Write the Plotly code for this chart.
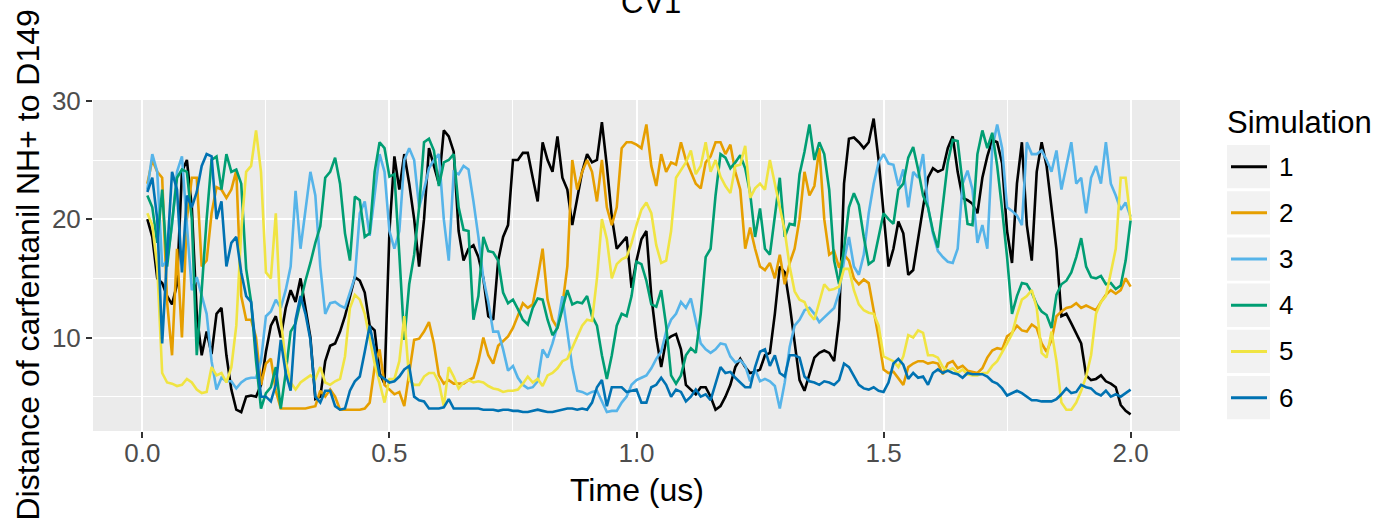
import plotly.graph_objects as go

# ---------------- data ----------------
TIME = [round(0.01 * i, 2) for i in range(1, 201)]  # 0.01 .. 2.00 us

SIM1 = [20.0, 18.5, 15.0, 14.6, 13.5, 12.8, 14.5, 24.0, 25.0, 21.0,
        12.0, 8.5, 10.5, 8.6, 12.0, 12.5, 8.5, 5.6, 3.9, 3.7,
        5.0, 5.1, 5.0, 6.0, 8.8, 11.0, 11.8, 10.0, 12.5, 14.0,
        13.0, 15.0, 12.5, 10.0, 4.8, 5.0, 8.0, 9.3, 9.5, 10.5,
        11.8, 13.4, 15.1, 14.8, 13.8, 11.0, 10.6, 7.0, 6.1, 19.0,
        25.3, 22.5, 25.5, 23.0, 20.0, 16.0, 20.0, 26.0, 24.5, 23.0,
        27.5, 27.0, 25.7, 19.0, 16.5, 17.5, 17.8, 16.8, 15.0, 11.8,
        11.5, 16.5, 18.5, 19.5, 25.0, 25.0, 25.6, 25.6, 23.5, 21.5,
        26.5, 25.0, 24.0, 27.0, 23.5, 22.5, 19.5, 21.9, 24.0, 25.5,
        24.8, 25.0, 28.2, 24.5, 20.2, 17.5, 18.0, 18.5, 14.2, 16.5,
        18.3, 19.0, 13.5, 10.0, 7.5, 9.8, 10.1, 10.3, 9.0, 6.0,
        5.6, 5.2, 5.8, 5.8, 5.0, 3.9, 4.2, 5.0, 6.0, 7.5,
        8.2, 7.5, 7.0, 7.1, 7.3, 8.5, 8.7, 12.0, 16.0, 15.5,
        12.8, 9.5, 6.4, 5.5, 7.0, 8.3, 8.7, 8.9, 8.7, 8.0,
        11.5, 23.0, 26.8, 26.9, 26.5, 26.0, 26.5, 28.5, 25.0, 20.2,
        16.0, 17.5, 19.8, 18.8, 15.3, 15.7, 18.5, 21.0, 23.5, 24.3,
        24.0, 24.2, 26.0, 27.0, 24.0, 21.8, 21.6, 21.3, 20.5, 23.5,
        25.3, 26.7, 26.5, 24.7, 19.0, 16.3, 23.0, 26.5, 19.5, 16.5,
        24.0, 26.5, 24.5, 21.0, 17.4, 11.8, 12.0, 11.2, 10.4, 9.5,
        6.8, 6.4, 6.5, 6.8, 6.3, 6.1, 5.8, 4.3, 3.8, 3.5]

SIM2 = [23.0, 25.0, 24.0, 23.5, 13.0, 8.5, 17.5, 10.0, 20.0, 23.5,
        23.5, 16.0, 16.5, 20.5, 22.7, 22.5, 21.8, 22.5, 24.1, 13.5,
        11.5, 11.5, 10.0, 6.0, 7.8, 8.2, 5.5, 4.0, 4.0, 4.0,
        4.0, 4.0, 4.0, 4.1, 4.2, 5.5, 5.0, 5.6, 5.0, 3.9,
        3.9, 3.9, 3.9, 3.9, 4.0, 4.5, 7.5, 9.0, 6.0, 5.6,
        5.2, 5.4, 4.2, 7.0, 9.8, 9.9, 10.5, 11.3, 9.5, 6.8,
        6.1, 6.4, 6.1, 6.1, 6.1, 6.4, 6.6, 8.0, 10.0, 8.5,
        7.8, 9.3, 9.7, 10.1, 10.8, 11.8, 12.9, 12.5, 12.8, 15.0,
        17.5, 13.2, 11.5, 10.8, 12.7, 16.0, 25.0, 22.5, 24.0, 25.0,
        24.0, 21.5, 25.0, 21.0, 19.5, 21.0, 26.0, 26.5, 26.5, 26.3,
        26.0, 28.0, 24.5, 22.8, 25.5, 24.0, 24.8, 24.6, 26.5, 25.0,
        24.0, 23.0, 22.6, 24.8, 25.3, 26.5, 26.5, 25.5, 26.3, 24.0,
        22.5, 17.5, 19.3, 17.5, 16.0, 15.7, 16.3, 15.0, 17.0, 14.5,
        16.3, 17.5, 20.0, 24.0, 22.0, 22.8, 26.0, 20.0, 17.0, 17.3,
        15.9, 17.0, 16.5, 15.0, 14.5, 14.9, 14.6, 12.3, 10.0, 7.3,
        7.0, 7.1, 6.5, 6.0, 7.5, 7.8, 8.0, 8.0, 7.8, 7.9,
        7.8, 6.9, 7.8, 8.0, 7.4, 7.6, 7.2, 7.1, 7.0, 7.4,
        8.3, 8.9, 9.1, 9.0, 10.1, 10.4, 11.0, 10.6, 10.5, 11.1,
        10.8, 9.5, 8.8, 9.8, 11.8, 12.2, 12.5, 12.6, 12.9, 12.5,
        12.7, 12.5, 12.3, 13.0, 13.6, 14.0, 13.7, 14.0, 15.0, 14.3]

SIM3 = [22.5, 25.5, 24.0, 16.0, 16.5, 19.5, 24.0, 25.3, 19.5, 14.0,
        15.1, 13.5, 12.0, 8.0, 5.6, 6.6, 6.3, 6.3, 5.7, 6.2,
        6.5, 6.6, 6.6, 8.0, 11.8, 12.2, 13.2, 12.5, 14.0, 16.0,
        22.4, 17.5, 21.0, 24.0, 22.0, 16.0, 12.0, 12.9, 13.0, 12.7,
        12.5, 13.8, 15.1, 20.5, 21.5, 18.6, 22.0, 25.5, 24.0, 19.0,
        17.5, 19.0, 25.0, 26.0, 25.0, 21.0, 22.5, 24.3, 25.0, 25.5,
        20.0, 16.5, 24.0, 23.8, 24.5, 24.2, 21.5, 18.5, 15.0, 13.0,
        10.5, 10.5, 9.0, 7.2, 7.6, 6.6, 6.0, 5.7, 5.8, 6.3,
        9.0, 8.3, 9.5, 11.0, 13.5, 10.5, 7.5, 5.5, 5.4, 5.2,
        5.4, 5.5, 4.6, 3.7, 3.8, 3.8, 4.5, 5.0, 6.0, 6.4,
        6.6, 6.8, 7.4, 8.2, 8.8, 10.5, 11.5, 12.0, 13.0, 12.5,
        13.3, 11.5, 9.5, 9.0, 8.7, 9.0, 9.5, 9.4, 8.4, 7.9,
        8.1, 7.6, 6.3, 7.3, 6.3, 6.5, 6.3, 5.9, 4.0, 6.2,
        9.2, 11.0, 11.5, 12.3, 12.5, 12.0, 11.3, 11.7, 12.1, 12.5,
        13.8, 16.5, 18.5, 16.0, 15.3, 17.0, 20.5, 23.0, 24.8, 25.5,
        24.7, 24.6, 22.8, 24.2, 21.0, 24.0, 23.5, 25.5, 21.0, 18.8,
        17.3, 16.8, 16.4, 16.3, 17.5, 23.0, 24.1, 22.5, 18.0, 19.5,
        17.5, 26.0, 28.0, 26.0, 21.0, 20.7, 20.3, 19.5, 26.5, 25.5,
        25.5, 25.8, 25.0, 24.0, 25.8, 22.5, 24.5, 26.5, 23.0, 23.5,
        20.5, 23.5, 24.5, 23.0, 26.5, 23.0, 22.0, 20.8, 21.4, 20.2]

SIM4 = [22.0, 21.0, 18.0, 22.5, 16.0, 19.5, 23.5, 24.2, 24.0, 20.0,
        8.5, 14.0, 20.0, 25.0, 25.3, 22.5, 25.5, 24.0, 24.2, 23.0,
        15.8, 13.0, 8.0, 4.0, 5.3, 5.8, 7.5, 4.0, 7.0, 10.5,
        11.2, 13.0, 14.8, 16.3, 18.0, 19.4, 23.5, 24.0, 25.2, 23.0,
        18.8, 16.5, 21.9, 21.6, 18.5, 18.8, 24.0, 26.5, 26.0, 23.6,
        23.8, 17.0, 9.8, 14.5, 17.0, 21.0, 26.5, 26.8, 25.8, 22.8,
        24.8, 25.0, 25.5, 21.0, 19.1, 19.0, 11.5, 13.5, 18.5, 17.3,
        17.2, 16.5, 13.8, 12.9, 13.2, 12.4, 11.5, 11.1, 12.5, 13.3,
        13.2, 11.5, 10.2, 10.8, 12.5, 14.0, 12.8, 13.0, 12.9, 13.5,
        11.8, 11.0, 8.5, 6.5, 8.5, 11.0, 12.0, 11.8, 13.5, 16.4,
        16.2, 14.8, 12.8, 12.6, 14.0, 11.0, 6.8, 6.1, 6.8, 8.5,
        9.1, 8.7, 12.0, 16.8, 17.5, 22.0, 25.5, 25.2, 24.3, 24.8,
        25.4, 24.3, 22.2, 18.5, 20.9, 17.5, 17.0, 20.5, 23.5, 18.5,
        19.6, 19.5, 23.8, 25.7, 28.0, 25.0, 26.5, 25.5, 22.5, 16.5,
        14.5, 17.5, 21.0, 22.2, 21.2, 18.5, 16.2, 16.5, 18.5, 20.5,
        20.0, 19.6, 22.5, 23.0, 25.2, 26.1, 24.2, 22.0, 21.0, 19.0,
        17.6, 21.0, 24.8, 26.7, 26.6, 23.0, 19.6, 19.5, 25.5, 27.5,
        26.0, 27.3, 24.5, 20.8, 16.8, 12.0, 13.5, 14.6, 14.5, 13.8,
        12.8, 12.2, 11.9, 10.8, 13.6, 14.5, 14.8, 15.5, 16.8, 18.4,
        16.0, 15.1, 15.0, 15.2, 14.5, 14.6, 14.1, 14.4, 16.5, 19.9]

SIM5 = [20.5, 19.5, 16.0, 7.0, 6.2, 6.1, 5.9, 6.0, 6.5, 6.2,
        5.6, 5.3, 5.4, 7.5, 6.8, 7.0, 6.2, 7.5, 11.0, 19.0,
        24.0, 24.5, 27.5, 24.0, 15.5, 15.0, 20.5, 11.5, 8.0, 6.2,
        5.6, 6.2, 6.5, 6.8, 6.5, 7.5, 6.2, 6.0, 6.3, 6.5,
        8.4, 12.5, 13.6, 13.2, 12.0, 10.0, 7.8, 6.2, 4.5, 6.5,
        6.5, 8.0, 11.8, 6.4, 6.0, 6.0, 6.7, 7.0, 7.0, 6.2,
        4.2, 7.5, 6.7, 5.7, 6.2, 6.4, 6.2, 6.3, 6.2, 5.9,
        5.7, 5.6, 5.4, 5.5, 5.5, 5.6, 6.1, 6.7, 6.2, 6.5,
        5.9, 6.8, 7.0, 7.4, 8.0, 8.2, 9.1, 10.1, 11.0, 11.5,
        11.4, 15.0, 20.0, 18.3, 15.0, 16.2, 16.6, 16.8, 18.0, 19.5,
        20.8, 21.4, 20.5, 17.8, 16.3, 16.5, 19.0, 23.5, 24.2, 24.8,
        25.8, 23.8, 24.5, 26.5, 24.0, 25.0, 23.6, 22.8, 22.2, 24.5,
        24.6, 26.2, 21.8, 22.6, 23.0, 22.5, 25.0, 23.0, 21.0, 19.0,
        16.0, 13.9, 13.2, 13.0, 12.0, 11.5, 13.0, 14.5, 14.0, 14.1,
        14.3, 15.8, 15.8, 14.0, 12.8, 12.3, 12.1, 12.0, 11.0, 8.4,
        8.2, 8.0, 7.5, 8.4, 10.2, 10.0, 10.6, 10.4, 8.5, 8.5,
        8.3, 7.5, 7.2, 7.4, 7.0, 7.3, 6.9, 6.8, 6.8, 7.0,
        7.0, 7.6, 8.0, 8.7, 9.5, 10.3, 11.9, 13.2, 13.5, 14.0,
        12.5, 8.7, 8.3, 10.5, 8.0, 4.5, 3.9, 3.9, 4.5, 5.5,
        6.7, 8.5, 12.0, 13.0, 13.5, 15.5, 17.5, 23.5, 23.5, 19.9]

SIM6 = [22.3, 23.5, 20.0, 9.5, 17.0, 24.0, 22.5, 15.5, 22.0, 21.0,
        22.3, 24.5, 25.5, 25.3, 20.0, 21.5, 16.0, 18.0, 18.5, 15.5,
        13.5, 13.0, 9.0, 5.0, 5.0, 4.6, 6.0, 9.8, 7.0, 5.5,
        11.5, 13.5, 12.0, 9.8, 5.0, 4.5, 5.5, 5.5, 4.2, 3.9,
        4.0, 5.5, 6.3, 6.7, 8.8, 11.0, 9.0, 6.8, 6.5, 6.2,
        6.3, 6.7, 7.3, 7.6, 5.0, 4.7, 4.6, 4.0, 4.0, 4.0,
        4.1, 4.8, 4.0, 4.0, 4.0, 4.0, 4.0, 4.0, 3.9, 3.9,
        3.9, 3.8, 3.9, 3.9, 3.8, 3.8, 3.7, 3.7, 3.8, 3.9,
        3.8, 3.7, 3.7, 3.8, 3.9, 4.0, 4.0, 3.9, 4.0, 3.9,
        4.5, 5.8, 6.4, 4.2, 5.8, 5.8, 5.8, 5.4, 5.5, 5.6,
        4.5, 4.5, 5.8, 6.0, 6.6, 6.0, 5.0, 5.6, 5.4, 4.6,
        5.0, 5.6, 5.0, 5.2, 4.7, 6.0, 7.5, 7.0, 7.1, 6.6,
        6.2, 5.8, 5.8, 7.5, 8.8, 9.0, 7.6, 8.5, 7.0, 6.7,
        8.5, 8.5, 8.3, 6.7, 6.3, 6.2, 6.0, 6.3, 6.2, 6.0,
        6.4, 7.8, 7.5, 6.8, 6.0, 5.7, 5.6, 5.8, 5.5, 5.4,
        6.2, 7.8, 8.2, 7.7, 6.5, 7.0, 6.6, 6.7, 6.0, 7.0,
        7.3, 7.0, 7.2, 7.0, 6.9, 6.6, 7.0, 6.9, 6.9, 6.9,
        6.7, 6.3, 6.1, 5.7, 5.1, 5.3, 5.5, 5.3, 5.0, 4.7,
        4.7, 4.6, 4.6, 4.6, 4.8, 5.2, 5.7, 5.3, 5.4, 6.0,
        5.8, 5.7, 5.3, 5.1, 5.5, 5.0, 5.2, 5.0, 5.3, 5.6]

SIM_NAMES = ["1", "2", "3", "4", "5", "6"]
SIM_COLORS = ["#000000", "#E69F00", "#56B4E9", "#009E73", "#F0E442", "#0072B2"]
X_TICKS = [0.0, 0.5, 1.0, 1.5, 2.0]
X_TICK_TEXT = ["0.0", "0.5", "1.0", "1.5", "2.0"]
X_MINOR = [0.25, 0.75, 1.25, 1.75]
Y_TICKS = [10, 20, 30]
Y_MINOR = [5, 15, 25]

TITLE = "CV1"
X_TITLE = "Time (us)"
Y_TITLE = "Distance of carfentanil NH+ to D149"
LEGEND_TITLE = "Simulation"

# ---------------- layout geometry (pixels) ----------------
W, H = 1377, 521
PL, PR, PT, PB = 93, 1180, 100, 431   # panel edges
FONT = "Liberation Sans, Arial, Helvetica, sans-serif"


def fx(px):
    return (px - PL) / (PR - PL)


def fy(py):
    return (PB - py) / (PB - PT)


fig = go.Figure()
for name, col, vals in zip(SIM_NAMES, SIM_COLORS, [SIM1, SIM2, SIM3, SIM4, SIM5, SIM6]):
    fig.add_trace(go.Scatter(x=TIME, y=vals, mode="lines", name=name,
                             line=dict(color=col, width=2.6), showlegend=False))

shapes = []
annotations = []

# manual legend (ggplot style keys)
annotations.append(dict(text=LEGEND_TITLE, x=fx(1225), y=fy(122), xref="paper", yref="paper",
                        xanchor="left", yanchor="middle", showarrow=False,
                        font=dict(family=FONT, size=31, color="#000000")))
for i, (name, col) in enumerate(zip(SIM_NAMES, SIM_COLORS)):
    top = 145 + 46.2 * i
    bot = top + 43.3
    cy = (top + bot) / 2
    shapes.append(dict(type="rect", xref="paper", yref="paper",
                       x0=fx(1227), x1=fx(1270), y0=fy(bot), y1=fy(top),
                       fillcolor="#F2F2F2", line=dict(width=0), layer="above"))
    shapes.append(dict(type="line", xref="paper", yref="paper",
                       x0=fx(1231), x1=fx(1267), y0=fy(cy), y1=fy(cy),
                       line=dict(color=col, width=3), layer="above"))
    annotations.append(dict(text=name, x=fx(1277), y=fy(cy), xref="paper", yref="paper",
                            xanchor="left", yanchor="middle", showarrow=False,
                            font=dict(family=FONT, size=26, color="#000000")))

# titles (the reference's title is partly cut by the top edge)
annotations.append(dict(text=TITLE, x=fx(651), y=fy(2), xref="paper", yref="paper",
                        xanchor="center", yanchor="middle", showarrow=False,
                        font=dict(family=FONT, size=31, color="#000000")))
annotations.append(dict(text=X_TITLE, x=fx(637), y=fy(490), xref="paper", yref="paper",
                        xanchor="center", yanchor="middle", showarrow=False,
                        font=dict(family=FONT, size=32, color="#000000")))
annotations.append(dict(text=Y_TITLE, x=fx(27), y=0.5, xref="paper", yref="paper",
                        xanchor="center", yanchor="middle", showarrow=False, textangle=-90,
                        font=dict(family=FONT, size=32, color="#000000")))

fig.update_layout(
    width=W, height=H,
    margin=dict(l=PL, r=W - PR, t=PT, b=H - PB, pad=0),
    paper_bgcolor="#FFFFFF", plot_bgcolor="#EBEBEB",
    font=dict(family=FONT),
    shapes=shapes, annotations=annotations,
    showlegend=False,
)
fig.update_xaxes(range=[-0.1, 2.1], tickvals=X_TICKS, ticktext=X_TICK_TEXT,
                 showgrid=True, gridcolor="#FFFFFF", gridwidth=2.2,
                 minor=dict(tickvals=X_MINOR, showgrid=True, gridcolor="#FFFFFF", gridwidth=1.1),
                 ticks="outside", ticklen=6, tickwidth=2, tickcolor="#333333",
                 ticklabelstandoff=-7,
                 tickfont=dict(family=FONT, size=26, color="#4D4D4D"),
                 zeroline=False, showline=False)
fig.update_yaxes(range=[2.1, 30.07], tickvals=Y_TICKS,
                 showgrid=True, gridcolor="#FFFFFF", gridwidth=2.2,
                 minor=dict(tickvals=Y_MINOR, showgrid=True, gridcolor="#FFFFFF", gridwidth=1.1),
                 ticks="outside", ticklen=6, tickwidth=2, tickcolor="#333333",
                 tickfont=dict(family=FONT, size=26, color="#4D4D4D"),
                 zeroline=False, showline=False)

fig.write_html("out.html")
